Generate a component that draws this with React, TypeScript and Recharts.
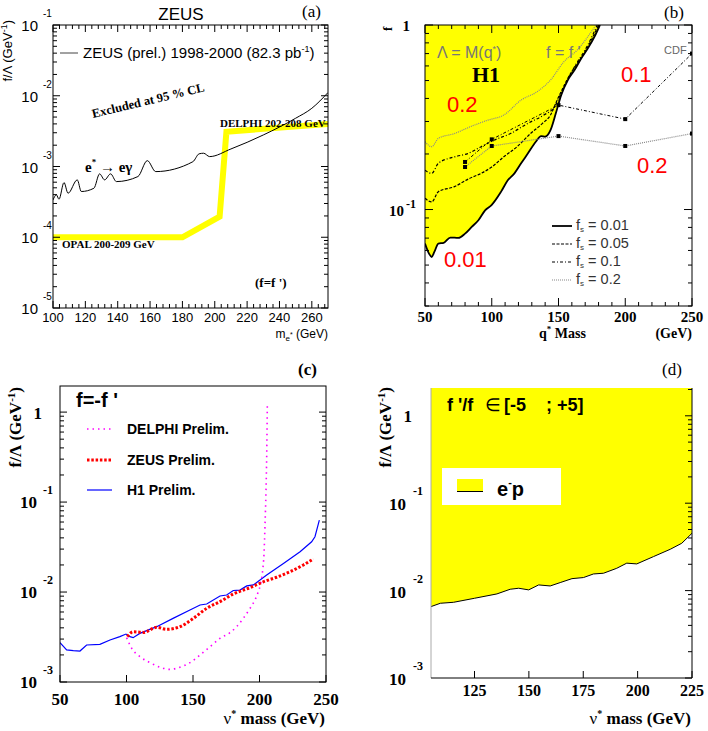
import React from 'react';
import { ComposedChart, Line, Area, XAxis, YAxis } from 'recharts';

const SANS = '"Liberation Sans", Arial, Helvetica, sans-serif';
const SERIF = '"Liberation Serif", "Times New Roman", Times, serif';
const YELLOW = '#ffff00';

// (a) ZEUS e* -> e gamma limit (f = f')
const zeusMass = [100, 102.1, 103.7, 106.8, 109.3, 115, 117.5, 125.3, 128.8, 131.9, 135.6, 139.2, 152.5, 158.3, 163.5, 186.5, 190.3, 193.1, 196.8, 210, 230, 250, 260, 270];
const zeusLimit = [3.37e-4, 3.97e-4, 3.45e-4, 5.93e-4, 4.19e-4, 6.47e-4, 4.43e-4, 4.93e-4, 7.87e-4, 6.47e-4, 7.87e-4, 6.12e-4, 7.21e-4, 1.21e-3, 8.47e-4, 1.17e-3, 1.51e-3, 1.54e-3, 1.38e-3, 1.77e-3, 2.79e-3, 4.81e-3, 6.65e-3, 1.11e-2];
// OPAL / DELPHI combined (thick yellow)
const lepMass = [100, 180, 203, 207.2, 270];
const lepLimit = [1e-4, 1e-4, 1.96e-4, 3.1e-3, 4.0e-3];

// (b) H1 q* limits for different fs
const fs001Mass = [50, 53, 55, 57, 60, 64, 69, 75, 80, 85, 90, 95, 100, 107, 112, 117, 122, 127, 133, 137, 140, 144, 148, 152, 157, 162, 167, 172, 177, 181];
const fs001Limit = [0.0654, 0.0577, 0.0553, 0.0589, 0.0654, 0.066, 0.0705, 0.0702, 0.074, 0.0805, 0.0875, 0.099, 0.106, 0.125, 0.144, 0.157, 0.178, 0.201, 0.233, 0.25, 0.248, 0.269, 0.332, 0.417, 0.503, 0.57, 0.659, 0.747, 0.865, 1.0];
const fs005Mass = [50, 55, 60, 72, 83, 92, 100, 109, 119, 129, 138, 144, 149, 157, 172, 180];
const fs005Limit = [0.115, 0.11, 0.125, 0.133, 0.147, 0.157, 0.17, 0.193, 0.219, 0.258, 0.293, 0.325, 0.392, 0.514, 0.762, 1.0];
const fs01Mass = [50, 55, 60, 72, 82, 92, 102, 114, 127, 139, 147, 153, 162, 172, 179];
const fs01Limit = [0.163, 0.157, 0.178, 0.193, 0.201, 0.219, 0.238, 0.258, 0.293, 0.325, 0.36, 0.444, 0.594, 0.78, 1.0];
const fs02Mass = [50, 55, 60, 72, 84, 97, 109, 122, 134, 144, 154, 164, 172, 178];
const fs02Limit = [0.233, 0.219, 0.243, 0.258, 0.281, 0.305, 0.325, 0.392, 0.435, 0.503, 0.632, 0.731, 0.865, 1.0];
const cdfMass = [80, 100, 150, 200, 250];
const cdf01Limit = [0.181, 0.24, 0.368, 0.309, 0.7];
const cdf02Limit = [0.17, 0.221, 0.25, 0.221, 0.258];

// (c) nu* limits, f = -f'
const h1NuMass = [50, 55, 60, 65, 70, 80, 87.6, 95, 99.6, 102.6, 105, 110, 122.7, 135, 147.7, 155.3, 160.3, 170.3, 175.3, 180.3, 185.3, 190.4, 195.4, 205.4, 218, 230.5, 239.2, 241.7, 245];
const h1NuLimit = [2.74e-3, 2.27e-3, 2.23e-3, 2.21e-3, 2.58e-3, 2.62e-3, 2.93e-3, 3.19e-3, 3.41e-3, 3.19e-3, 3.11e-3, 3.47e-3, 4.12e-3, 5.1e-3, 6.31e-3, 7.17e-3, 7.36e-3, 9.03e-3, 9.27e-3, 1.04e-2, 1.05e-2, 1.17e-2, 1.2e-2, 1.55e-2, 2.08e-2, 2.81e-2, 3.62e-2, 4.12e-2, 6.31e-2];
const zeusNuMass = [100.6, 105.1, 112.7, 122.7, 130.2, 140.2, 150.3, 160.3, 170.3, 180.3, 192.9, 202.9, 212.9, 222.9, 233, 240.5];
const zeusNuLimit = [3.19e-3, 3.62e-3, 3.56e-3, 4.05e-3, 3.85e-3, 4.12e-3, 5.1e-3, 6.59e-3, 7.81e-3, 9.5e-3, 1.12e-2, 1.3e-2, 1.46e-2, 1.68e-2, 2.0e-2, 2.33e-2];
const delphiNuMass = [100.1, 103.9, 110.2, 117.7, 125.2, 132.7, 140.2, 147.7, 155.3, 162.8, 170.3, 177.8, 182.8, 187.8, 192.9, 196.6, 199.1, 200.9, 202.4, 203.4, 204.1, 204.9, 205.4, 205.9];
const delphiNuLimit = [3.11e-3, 2.37e-3, 1.91e-3, 1.64e-3, 1.46e-3, 1.38e-3, 1.46e-3, 1.64e-3, 2.0e-3, 2.47e-3, 3.06e-3, 3.53e-3, 4.12e-3, 5.1e-3, 6.59e-3, 8.15e-3, 1.01e-2, 1.25e-2, 1.75e-2, 2.69e-2, 5.32e-2, 0.136, 0.319, 1.25];

// (d) nu* limit, f'/f in [-5, +5]
const epMass = [105, 109.3, 115.4, 125, 135.3, 141.4, 145.3, 149.9, 154.5, 159.8, 164.4, 169.8, 175.1, 179.7, 184.3, 190.4, 195, 199.6, 207.3, 215, 220.3, 225];
const epLimit = [0.00656, 0.00716, 0.00735, 0.00817, 0.00916, 0.01036, 0.01064, 0.01019, 0.01161, 0.0113, 0.01235, 0.0137, 0.0141, 0.0155, 0.0158, 0.018, 0.0206, 0.0202, 0.0245, 0.0297, 0.0348, 0.0453];

const C_TOP = 1.95;
const D_TOP = 2.08;

const pts = (xs: number[], ys: number[]) => xs.map((m, i) => ({ m, v: ys[i] }));

const zeusData = pts(zeusMass, zeusLimit);
const lepData = pts(lepMass, lepLimit);
const fs001Data = fs001Mass.map((m, i) => ({ m, v: fs001Limit[i], band: [fs001Limit[i], 1] }));
const fs005Data = pts(fs005Mass, fs005Limit);
const fs01Data = pts(fs01Mass, fs01Limit);
const fs02Data = pts(fs02Mass, fs02Limit);
const cdf01Data = pts(cdfMass, cdf01Limit);
const cdf02Data = pts(cdfMass, cdf02Limit);
const h1NuData = pts(h1NuMass, h1NuLimit);
const zeusNuData = pts(zeusNuMass, zeusNuLimit);
const delphiNuData = pts(delphiNuMass, delphiNuLimit);
const epData = epMass.map((m, i) => ({ m, v: epLimit[i], band: [epLimit[i], D_TOP] }));

const FS_STYLES = [
  { label: '0.01', dash: undefined as string | undefined, color: '#000', w: 1.8 },
  { label: '0.05', dash: '3 1.5', color: '#000', w: 1.2 },
  { label: '0.1', dash: '3 2 1 2', color: '#000', w: 1.2 },
  { label: '0.2', dash: '1 1', color: '#888', w: 1.2 },
];

// ---- tick helpers
const decade = (v: number) => Math.abs(Math.log10(v) - Math.round(Math.log10(v))) < 1e-6;
const pow10 = (v: number) => Math.round(Math.log10(v));

const logTicks = (lo: number, hi: number) => {
  const out: number[] = [];
  for (let d = Math.floor(Math.log10(lo)); d <= Math.ceil(Math.log10(hi)); d++) {
    for (let k = 1; k <= 9; k++) {
      const v = k * Math.pow(10, d);
      if (v >= lo * 0.999 && v <= hi * 1.001) out.push(v);
    }
  }
  return out;
};

const stepTicks = (lo: number, hi: number, step: number) => {
  const out: number[] = [];
  for (let v = lo; v <= hi + 1e-9; v += step) out.push(+v.toFixed(6));
  return out;
};

type LabelFn = (v: number, x: number, y: number) => React.ReactNode;

// axes are 1px wide/high (0 would hide them); tick x/y then sit on the plot edge
const yTick = (plotW: number, maj: number, min: number, label: LabelFn, left = true) => (p: any) => {
  const { x, y, payload } = p;
  const v = payload.value;
  const big = decade(v);
  const len = big ? maj : min;
  return (
    <g>
      {left && <line x1={x} y1={y} x2={x + len} y2={y} stroke="#000" />}
      <line x1={x + plotW} y1={y} x2={x + plotW - len} y2={y} stroke="#000" />
      {big && label(v, x, y)}
    </g>
  );
};

const xTick = (plotH: number, every: number, maj: number, min: number, label: LabelFn, top = false) => (p: any) => {
  const { x, y, payload } = p;
  const v = payload.value;
  const big = Math.abs(v / every - Math.round(v / every)) < 1e-6;
  const len = big ? maj : min;
  return (
    <g>
      <line x1={x} y1={y} x2={x} y2={y - len} stroke="#000" />
      {top && <line x1={x} y1={y - plotH} x2={x} y2={y - plotH + len} stroke="#000" />}
      {big && label(v, x, y)}
    </g>
  );
};

const axisBase = { tickLine: false, axisLine: false, tickSize: 0, tickMargin: 0, interval: 0 as const };

const Square = (p: any) => (
  <rect key={`sq-${p.index}`} x={p.cx - 2} y={p.cy - 2} width={4} height={4} fill="#000" />
);

// ---- panels
const PanelA = () => (
  <div style={{ position: 'absolute', left: 0, top: 0 }}>
    <ComposedChart width={354} height={340} margin={{ top: 25, right: 26, bottom: 31, left: 52 }}>
      <XAxis
        {...axisBase}
        type="number"
        dataKey="m"
        domain={[100, 270]}
        allowDataOverflow
        height={1}
        ticks={stepTicks(100, 268, 4)}
        tick={xTick(283, 20, 7, 4, (v, x, y) => (
          <text x={x} y={y + 14} textAnchor="middle" fontFamily={SANS} fontSize={13}>{v}</text>
        ), true)}
      />
      <YAxis
        {...axisBase}
        type="number"
        scale="log"
        domain={[1e-5, 1e-1]}
        allowDataOverflow
        width={1}
        ticks={logTicks(1e-5, 1e-1)}
        tick={yTick(275, 7, 4, (v, x, y) => (
          <g fontFamily={SANS}>
            <text x={x - 15} y={y + 6} textAnchor="end" fontSize={15}>10</text>
            <text x={x - 10} y={y - 8} fontSize={10}>{pow10(v)}</text>
          </g>
        ))}
      />
      <Line data={lepData} dataKey="v" type="linear" stroke={YELLOW} strokeWidth={6} dot={false} isAnimationActive={false} />
      <Line data={zeusData} dataKey="v" type="monotone" stroke="#000" strokeWidth={1} dot={false} isAnimationActive={false} />
    </ComposedChart>
  </div>
);

const PanelB = () => (
  <div style={{ position: 'absolute', left: 354, top: 0 }}>
    <ComposedChart width={354} height={340} margin={{ top: 25, right: 16, bottom: 33, left: 70 }}>
      <XAxis
        {...axisBase}
        type="number"
        dataKey="m"
        domain={[50, 250]}
        allowDataOverflow
        height={1}
        ticks={stepTicks(50, 250, 10)}
        tick={xTick(281, 50, 8, 4, (v, x, y) => (
          <text x={x} y={y + 16} textAnchor="middle" fontFamily={SERIF} fontWeight="bold" fontSize={15}>{v}</text>
        ), true)}
      />
      <YAxis
        {...axisBase}
        type="number"
        scale="log"
        domain={[0.03, 1]}
        allowDataOverflow
        width={1}
        ticks={logTicks(0.03, 1)}
        tick={yTick(267, 8, 4, (v, x, y) =>
          pow10(v) === 0 ? (
            <text x={x - 15} y={y + 6} textAnchor="end" fontFamily={SERIF} fontWeight="bold" fontSize={15}>1</text>
          ) : (
            <g fontFamily={SERIF} fontWeight="bold">
              <text x={x - 21} y={y + 6} textAnchor="end" fontSize={15}>10</text>
              <text x={x - 19} y={y - 2} fontSize={12}>{pow10(v)}</text>
            </g>
          )
        )}
      />
      <Area data={fs001Data} dataKey="band" type="monotone" stroke="none" fill={YELLOW} fillOpacity={1} isAnimationActive={false} />
      <Line data={fs02Data} dataKey="v" type="monotone" stroke={FS_STYLES[3].color} strokeWidth={FS_STYLES[3].w} strokeDasharray={FS_STYLES[3].dash} dot={false} isAnimationActive={false} />
      <Line data={fs01Data} dataKey="v" type="monotone" stroke={FS_STYLES[2].color} strokeWidth={FS_STYLES[2].w} strokeDasharray={FS_STYLES[2].dash} dot={false} isAnimationActive={false} />
      <Line data={fs005Data} dataKey="v" type="monotone" stroke={FS_STYLES[1].color} strokeWidth={FS_STYLES[1].w} strokeDasharray={FS_STYLES[1].dash} dot={false} isAnimationActive={false} />
      <Line data={fs001Data} dataKey="v" type="monotone" stroke={FS_STYLES[0].color} strokeWidth={FS_STYLES[0].w} dot={false} isAnimationActive={false} />
      <Line data={cdf01Data} dataKey="v" type="linear" stroke="#000" strokeWidth={1} strokeDasharray="3 2 1 2" dot={Square} isAnimationActive={false} />
      <Line data={cdf02Data} dataKey="v" type="linear" stroke="#888" strokeWidth={1.2} strokeDasharray="1 1" dot={Square} isAnimationActive={false} />
    </ComposedChart>
  </div>
);

const PanelC = () => (
  <div style={{ position: 'absolute', left: 0, top: 340 }}>
    <ComposedChart width={354} height={391} margin={{ top: 46, right: 28, bottom: 48, left: 59 }}>
      <XAxis
        {...axisBase}
        type="number"
        dataKey="m"
        domain={[50, 250]}
        allowDataOverflow
        height={1}
        ticks={[50, 100, 150, 200, 250]}
        tick={xTick(296, 50, 7, 4, (v, x, y) => (
          <text x={x} y={y + 23} textAnchor="middle" fontFamily={SERIF} fontWeight="bold" fontSize={17}>{v}</text>
        ))}
      />
      <YAxis
        {...axisBase}
        type="number"
        scale="log"
        domain={[1e-3, C_TOP]}
        allowDataOverflow
        width={1}
        ticks={logTicks(1e-3, C_TOP)}
        tick={yTick(266, 7, 4, (v, x, y) =>
          pow10(v) === 0 ? (
            <text x={x - 18} y={y + 7} textAnchor="end" fontFamily={SERIF} fontWeight="bold" fontSize={17}>1</text>
          ) : (
            <g fontFamily={SERIF} fontWeight="bold">
              <text x={x - 23} y={y + 6} textAnchor="end" fontSize={17}>10</text>
              <text x={x - 17} y={y - 8} fontSize={12}>{pow10(v)}</text>
            </g>
          )
        )}
      />
      <Line data={h1NuData} dataKey="v" type="linear" stroke="#0000ff" strokeWidth={1.2} dot={false} isAnimationActive={false} />
      <Line data={delphiNuData} dataKey="v" type="monotone" stroke="#ff00ff" strokeWidth={1.6} strokeDasharray="1.5 4" dot={false} isAnimationActive={false} />
      <Line data={zeusNuData} dataKey="v" type="monotone" stroke="#ff0000" strokeWidth={3} strokeDasharray="2.5 1.8" dot={false} isAnimationActive={false} />
    </ComposedChart>
  </div>
);

const PanelD = () => (
  <div style={{ position: 'absolute', left: 354, top: 340 }}>
    <ComposedChart width={354} height={391} data={epData} margin={{ top: 48, right: 16, bottom: 52, left: 76 }}>
      <XAxis
        {...axisBase}
        type="number"
        dataKey="m"
        domain={[105, 225]}
        allowDataOverflow
        height={1}
        ticks={[125, 150, 175, 200, 225]}
        tick={xTick(290, 25, 7, 4, (v, x, y) => (
          <text x={x} y={y + 18} textAnchor="middle" fontFamily={SERIF} fontWeight="bold" fontSize={16}>{v}</text>
        ))}
      />
      <YAxis
        {...axisBase}
        type="number"
        scale="log"
        domain={[1e-3, D_TOP]}
        allowDataOverflow
        width={1}
        ticks={logTicks(1e-3, D_TOP)}
        tick={yTick(261, 7, 4, (v, x, y) =>
          pow10(v) === 0 ? (
            <text x={x - 19} y={y + 6} textAnchor="end" fontFamily={SERIF} fontWeight="bold" fontSize={17}>1</text>
          ) : (
            <g fontFamily={SERIF} fontWeight="bold">
              <text x={x - 25} y={y + 7} textAnchor="end" fontSize={17}>10</text>
              <text x={x - 18} y={y - 8} fontSize={12}>{pow10(v)}</text>
            </g>
          ),
          false
        )}
      />
      <Area dataKey="band" type="linear" stroke="none" fill={YELLOW} fillOpacity={1} isAnimationActive={false} />
      <Line dataKey="v" type="linear" stroke="#000" strokeWidth={1} dot={false} isAnimationActive={false} />
    </ComposedChart>
  </div>
);

// ---- texts, frames and legends
const Overlay = () => (
  <svg width={708} height={731} style={{ position: 'absolute', left: 0, top: 0, pointerEvents: 'none' }}>
    {/* (a) */}
    <rect x={53} y={25} width={275} height={283} fill="none" stroke="#000" />
    <text x={181} y={20} textAnchor="middle" fontFamily={SANS} fontSize={17}>ZEUS</text>
    <text x={302} y={17} fontFamily={SERIF} fontSize={17}>(a)</text>
    <line x1={60} y1={53} x2={78} y2={53} stroke="#444" />
    <text x={83} y={58} fontFamily={SANS} fontSize={15}>
      ZEUS (prel.) 1998-2000 (82.3 pb<tspan dy={-6} fontSize={9}>-1</tspan><tspan dy={6}>)</tspan>
    </text>
    <text transform="translate(93,118) rotate(-13.5)" fontFamily={SERIF} fontWeight="bold" fontSize={12.5}>Excluded at 95 % CL</text>
    <text x={220} y={127} fontFamily={SERIF} fontWeight="bold" fontSize={11}>DELPHI 202-208 GeV</text>
    <text x={85} y={172} fontFamily={SERIF} fontWeight="bold" fontSize={15}>
      e<tspan dy={-7} fontSize={9}>*</tspan><tspan dy={7}> </tspan><tspan fontWeight="normal">→</tspan> eγ
    </text>
    <text x={62} y={248} fontFamily={SERIF} fontWeight="bold" fontSize={11}>OPAL 200-209 GeV</text>
    <text x={255} y={287} fontFamily={SERIF} fontWeight="bold" fontSize={13}>(f=f ')</text>
    <text transform="translate(12,20) rotate(-90)" textAnchor="end" fontFamily={SANS} fontSize={13}>
      f/Λ (GeV<tspan dy={-5} fontSize={9}>-1</tspan><tspan dy={5}>)</tspan>
    </text>
    <text x={328} y={338} textAnchor="end" fontFamily={SANS} fontSize={12}>
      m<tspan dy={3} fontSize={8}>e</tspan><tspan dy={-4} fontSize={7}>*</tspan><tspan dy={1}> (GeV)</tspan>
    </text>

    {/* (b) */}
    <rect x={425} y={25} width={267} height={281} fill="none" stroke="#000" />
    <text x={664} y={18} fontFamily={SERIF} fontSize={17}>(b)</text>
    <text transform="translate(392,31) rotate(-90)" fontFamily={SERIF} fontWeight="bold" fontSize={13}>f</text>
    <text x={437} y={58} fontFamily={SANS} fontSize={16} fill="#777">
      Λ = M(q<tspan dy={-6} fontSize={9}>*</tspan><tspan dy={6}>)</tspan>
    </text>
    <text x={546} y={58} fontFamily={SANS} fontSize={16} fill="#777">f = f '</text>
    <text x={472} y={82} fontFamily={SERIF} fontWeight="bold" fontSize={22}>H1</text>
    <text x={664} y={54} fontFamily={SANS} fontSize={11} fill="#666">CDF</text>
    <g fontFamily={SANS} fontSize={22} fill="#ff0000">
      <text x={447} y={112}>0.2</text>
      <text x={444} y={267}>0.01</text>
      <text x={621} y={82}>0.1</text>
      <text x={637} y={173}>0.2</text>
    </g>
    {FS_STYLES.map((s, i) => (
      <g key={s.label}>
        <line x1={552} y1={226 + i * 18} x2={572} y2={226 + i * 18} stroke={s.color} strokeWidth={s.w} strokeDasharray={s.dash} />
        <text x={576} y={230 + i * 18} fontFamily={SANS} fontSize={14.5} fill="#333">
          f<tspan dy={2} fontSize={8}>s</tspan><tspan dy={-2}> = {s.label}</tspan>
        </text>
      </g>
    ))}
    <text x={539} y={338} fontFamily={SERIF} fontWeight="bold" fontSize={14}>
      q<tspan dy={-6} fontSize={9}>*</tspan><tspan dy={6}> Mass</tspan>
    </text>
    <text x={692} y={338} textAnchor="end" fontFamily={SERIF} fontWeight="bold" fontSize={14}>(GeV)</text>

    {/* (c) */}
    <rect x={60} y={386} width={266} height={296} fill="none" stroke="#000" />
    <text x={298} y={375} fontFamily={SERIF} fontWeight="bold" fontSize={17}>(c)</text>
    <text x={76} y={407} fontFamily={SANS} fontWeight="bold" fontSize={20}>f=-f '</text>
    <line x1={87} y1={429} x2={112} y2={429} stroke="#ff00ff" strokeWidth={1.6} strokeDasharray="1.5 4" />
    <line x1={87} y1={460} x2={112} y2={460} stroke="#ff0000" strokeWidth={3} strokeDasharray="2.5 1.8" />
    <line x1={87} y1={490} x2={112} y2={490} stroke="#0000ff" strokeWidth={1.2} />
    <g fontFamily={SANS} fontWeight="bold" fontSize={14}>
      <text x={127} y={434}>DELPHI Prelim.</text>
      <text x={127} y={465}>ZEUS Prelim.</text>
      <text x={127} y={495}>H1 Prelim.</text>
    </g>
    <text transform="translate(21,387) rotate(-90)" textAnchor="end" fontFamily={SERIF} fontWeight="bold" fontSize={17}>
      f/Λ (GeV<tspan dy={-6} fontSize={11}>-1</tspan><tspan dy={6}>)</tspan>
    </text>
    <text x={325} y={724} textAnchor="end" fontFamily={SERIF} fontWeight="bold" fontSize={17}>
      <tspan fontWeight="normal">ν</tspan><tspan dy={-7} fontSize={10}>*</tspan><tspan dy={7}> mass (GeV)</tspan>
    </text>

    {/* (d) */}
    <line x1={431} y1={388} x2={431} y2={678} stroke="#aaa" />
    <line x1={692} y1={388} x2={692} y2={678} stroke="#000" />
    <line x1={431} y1={678} x2={692} y2={678} stroke="#000" />
    <text x={662} y={375} fontFamily={SERIF} fontSize={17}>(d)</text>
    <g fontFamily={SANS} fontWeight="bold" fontSize={18}>
      <text x={447} y={411}>f '/f</text>
      <text x={485} y={411} fontWeight="normal">∈</text>
      <text x={504} y={411}>[-5</text>
      <text x={546} y={411}>;</text>
      <text x={557} y={411}>+5]</text>
    </g>
    <rect x={442} y={468} width={119} height={37} fill="#fff" />
    <rect x={457} y={479} width={26} height={12} fill={YELLOW} />
    <line x1={457} y1={491.5} x2={483} y2={491.5} stroke="#000" />
    <text x={497} y={496} fontFamily={SANS} fontWeight="bold" fontSize={20}>
      e<tspan dy={-10} fontSize={11}>-</tspan><tspan dy={10}>p</tspan>
    </text>
    <text transform="translate(391,387) rotate(-90)" textAnchor="end" fontFamily={SERIF} fontWeight="bold" fontSize={17}>
      f/Λ (GeV<tspan dy={-6} fontSize={11}>-1</tspan><tspan dy={6}>)</tspan>
    </text>
    <text x={691} y={724} textAnchor="end" fontFamily={SERIF} fontWeight="bold" fontSize={17}>
      <tspan fontWeight="normal">ν</tspan><tspan dy={-7} fontSize={10}>*</tspan><tspan dy={7}> mass (GeV)</tspan>
    </text>
  </svg>
);

export default function App() {
  return (
    <div style={{ position: 'absolute', left: 0, top: 0, width: 708, height: 731, background: '#fff' }}>
      <PanelA />
      <PanelB />
      <PanelC />
      <PanelD />
      <Overlay />
    </div>
  );
}
